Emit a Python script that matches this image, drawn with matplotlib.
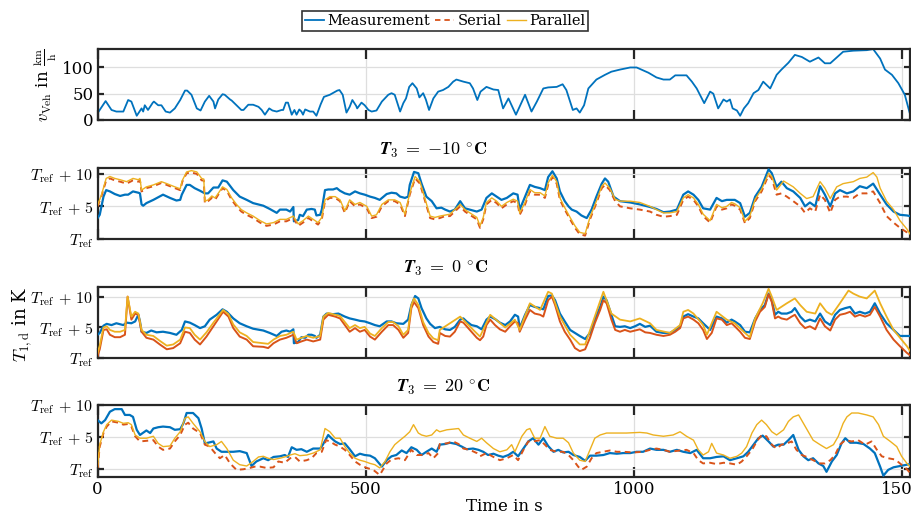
import matplotlib
matplotlib.use("Agg")
import matplotlib.pyplot as plt
import numpy as np

plt.rcParams['font.family'] = ['DejaVu Serif']
plt.rcParams['mathtext.fontset'] = 'cm'

# ---------------- data ----------------
# vehicle speed (km/h)
t_v = [0, 15, 26, 35, 48, 57, 63, 73, 82, 85, 88, 94, 103, 105, 113, 119, 127, 135, 144, 154,
       163, 167, 175, 185, 192, 200, 208, 216, 219, 225, 233, 237, 247, 250, 259, 268, 272, 281,
       290, 300, 306, 312, 320, 326, 334, 343, 346, 351, 355, 362, 367, 371, 376, 380, 383, 387,
       396, 402, 408, 416, 422, 433, 447, 451, 457, 464, 470, 475, 482, 484, 492, 498, 505, 511,
       520, 530, 542, 548, 554, 564, 570, 575, 581, 587, 595, 600, 607, 612, 618, 626, 635,
       644, 654, 663, 669, 682, 694, 700, 708, 714, 725, 738, 747, 756, 766, 780, 797, 809, 819,
       831, 840, 856, 867, 874, 886, 893, 899, 907, 915, 930, 946, 958, 974, 993, 1005, 1014,
       1027, 1042, 1055, 1067, 1077, 1098, 1108, 1117, 1123, 1131, 1142, 1148, 1157, 1167, 1173,
       1179, 1184, 1192, 1198, 1205, 1213, 1223, 1232, 1241, 1254, 1266, 1275, 1288, 1300, 1313,
       1328, 1344, 1356, 1366, 1378, 1390, 1409, 1434, 1446, 1459, 1468, 1481, 1493, 1505, 1515]
v_veh = [13, 36, 19, 16, 16, 38, 35, 8, 22, 16, 28, 19, 33, 35, 28, 28, 16, 14, 22, 38,
         56, 56, 48, 22, 18, 35, 46, 35, 22, 39, 49, 48, 39, 37, 28, 19, 19, 29,
         29, 25, 19, 10, 22, 18, 16, 19, 19, 33, 33, 10, 19, 10, 20, 16, 10, 20,
         16, 16, 8, 30, 44, 48, 56, 57, 48, 14, 25, 38, 27, 22, 33, 28, 19, 16,
         18, 35, 48, 51, 48, 16, 32, 41, 63, 70, 60, 43, 51, 39, 19, 41, 54,
         57, 63, 73, 77, 73, 70, 60, 38, 54, 63, 58, 57, 22, 41, 10, 48, 16, 35,
         60, 62, 63, 68, 57, 19, 22, 14, 28, 60, 77, 86, 92, 96, 100, 100, 96,
         90, 81, 77, 77, 85, 85, 73, 60, 48, 32, 54, 50, 22, 39, 35,
         39, 22, 18, 8, 22, 32, 51, 57, 73, 60, 86, 96, 109, 124, 120,
         111, 119, 108, 108, 119, 130, 132, 133, 135, 117, 96, 86, 70, 48, 10]

# T3 = -10 degC
t_m1 = [0, 4, 11, 16, 23, 32, 42, 51, 57, 66, 76, 79, 82, 85, 91, 104, 122, 135, 147, 154, 157,
        166, 172, 181, 191, 200, 206, 216, 225, 233, 241, 253, 265, 278, 290, 309, 321, 334, 340,
        352, 359, 365, 366, 374, 377, 383, 390, 399, 405, 408, 415, 418, 424, 430, 439, 446, 452,
        461, 470, 480, 489, 498, 508, 517, 526, 539, 548, 557, 564, 573, 579, 582, 590, 598, 604,
        613, 623, 632, 641, 648, 657, 666, 676, 685, 694, 707, 716, 725, 735, 744, 753, 763, 775,
        783, 787, 797, 806, 815, 825, 834, 840, 848, 856, 862, 871, 878, 884, 893, 902, 912, 921,
        930, 940, 946, 952, 962, 974, 993, 1011, 1030, 1042, 1055, 1067, 1080, 1092, 1101, 1111,
        1120, 1129, 1142, 1154, 1164, 1173, 1182, 1188, 1198, 1207, 1216, 1226, 1238, 1251, 1257,
        1266, 1275, 1285, 1297, 1310, 1319, 1328, 1338, 1347, 1356, 1366, 1375, 1384, 1397, 1409,
        1421, 1434, 1446, 1459, 1471, 1484, 1496, 1509, 1515]
T_m1 = [3.2, 3.7, 6.5, 7.5, 7.3, 6.9, 6.6, 6.8, 6.8, 7.3, 7.1, 7.0, 5.3, 5.1, 5.5, 6.0, 6.8, 6.3, 5.9, 6.0, 6.8,
        8.3, 8.3, 7.8, 7.4, 7.0, 7.0, 7.9, 7.9, 9.0, 8.8, 7.5, 6.5, 6.0, 5.5, 5.1, 4.6, 4.0, 4.5,
        4.5, 4.2, 4.9, 2.7, 2.9, 3.7, 3.5, 4.5, 4.6, 4.5, 3.6, 3.7, 4.5, 7.5, 7.6, 7.6, 7.8, 7.4,
        7.0, 6.8, 7.3, 7.0, 6.8, 6.5, 6.3, 6.0, 6.9, 7.1, 7.0, 6.5, 6.3, 6.5, 8.3, 10.3, 10.1, 8.5,
        6.5, 5.8, 4.7, 4.8, 4.5, 4.2, 4.5, 5.8, 4.7, 4.5, 4.2, 4.5, 6.3, 7.0, 6.5, 6.0, 6.3, 7.0,
        6.8, 4.5, 6.5, 8.3, 8.0, 7.8, 7.5, 9.5, 10.4, 9.3, 7.3, 5.8, 5.0, 4.5, 4.2, 3.6, 3.2, 4.5,
        6.5, 8.5, 9.3, 8.8, 6.5, 5.8, 5.6, 5.3, 4.9, 4.6, 4.1, 4.2, 4.5, 6.8, 7.3, 6.8,
        6.0, 4.7, 4.5, 6.3, 5.8, 6.0, 6.0, 6.0, 5.5, 3.4, 4.0, 6.5, 8.0, 10.7, 10.1,
        8.0, 8.8, 7.8, 7.3, 6.3, 5.0, 5.6, 5.0, 8.1, 6.8, 5.0, 7.0, 7.5, 7.0, 7.3,
        8.1, 7.8, 8.5, 6.8, 5.3, 4.2, 3.7, 3.6, 3.5]
t_s1 = [0, 7, 16, 23, 32, 42, 54, 66, 76, 79, 82, 91, 104, 119, 129, 141, 154, 158, 166, 175, 185,
        194, 198, 200, 206, 213, 219, 225, 233, 241, 250, 259, 268, 278, 290, 303, 315, 328, 340,
        352, 365, 374, 383, 393, 402, 411, 418, 424, 433, 443, 452, 461, 470, 480, 489, 502, 511,
        520, 530, 542, 554, 564, 573, 582, 592, 601, 610, 620, 629, 638, 648, 657, 666, 676, 685,
        694, 707, 713, 719, 725, 735, 744, 753, 763, 775, 783, 787, 797, 806, 815, 825, 834, 840,
        848, 856, 862, 871, 881, 890, 899, 909, 918, 930, 940, 946, 955, 965, 974, 993, 1011, 1030,
        1042, 1055, 1067, 1080, 1092, 1101, 1111, 1120, 1129, 1142, 1154, 1164, 1173, 1182, 1188,
        1198, 1207, 1216, 1226, 1238, 1251, 1257, 1266, 1275, 1285, 1297, 1310, 1319, 1328, 1338,
        1347, 1356, 1366, 1375, 1384, 1397, 1409, 1421, 1434, 1446, 1459, 1471, 1484, 1496, 1509, 1515]
T_s1 = [5.0, 6.5, 9.0, 9.3, 9.0, 8.8, 8.5, 9.0, 8.8, 9.0, 7.3, 7.8, 8.1, 8.6, 8.3, 7.9, 7.5, 8.8, 10.1, 10.2, 10.0,
        9.0, 9.0, 5.5, 5.8, 6.3, 6.0, 6.8, 7.8, 7.4, 6.0, 5.0, 4.2, 3.7, 3.2, 2.5, 2.0, 2.2, 2.7,
        2.7, 3.2, 2.0, 2.5, 3.2, 2.7, 2.2, 3.0, 5.8, 6.3, 6.3, 5.8, 4.0, 5.8, 5.0, 5.3, 4.7, 3.2,
        3.4, 5.0, 5.8, 5.8, 5.3, 3.5, 6.8, 9.3, 8.5, 6.0, 3.2, 3.0, 3.2, 3.5, 3.5, 4.2, 5.0, 4.2,
        3.7, 3.0, 1.7, 3.0, 5.3, 6.0, 5.5, 4.7, 5.3, 5.8, 5.5, 3.7, 5.3, 7.3, 6.8, 6.8, 6.3, 8.3,
        9.5, 8.5, 6.0, 4.5, 3.0, 1.7, 0.7, 0.5, 3.0, 5.5, 7.8, 8.3, 7.5, 5.8, 5.0, 4.7, 4.5, 4.2,
        3.7, 3.4, 3.5, 3.7, 6.0, 6.5, 6.0, 5.0, 3.5, 2.5, 5.0, 4.5, 4.7, 5.3, 5.1,
        4.5, 2.4, 3.2, 5.8, 7.3, 9.8, 9.3, 6.8, 7.0, 6.5, 5.8, 5.0, 4.0, 4.7, 4.2,
        6.8, 6.0, 4.0, 6.0, 6.5, 6.5, 6.3, 7.0, 7.0, 7.3, 5.5, 3.5, 2.5, 1.7, 1.0, 0.5]
t_p1 = [0, 7, 16, 23, 32, 42, 54, 66, 76, 79, 82, 91, 104, 119, 129, 141, 154, 158, 166, 175, 185,
        194, 198, 200, 206, 213, 219, 225, 233, 241, 250, 259, 268, 278, 290, 303, 315, 328, 340,
        352, 365, 374, 383, 393, 402, 411, 418, 424, 433, 443, 452, 461, 470, 480, 489, 502, 511,
        520, 530, 542, 554, 564, 573, 582, 592, 601, 610, 620, 629, 638, 657, 666, 676, 685, 694,
        707, 713, 719, 725, 735, 744, 753, 763, 775, 783, 787, 797, 806, 815, 825, 834, 840, 848,
        856, 862, 871, 881, 890, 899, 909, 918, 930, 940, 946, 955, 965, 974, 993, 1011, 1030, 1042,
        1055, 1067, 1080, 1092, 1101, 1111, 1120, 1129, 1142, 1154, 1164, 1173, 1182, 1188, 1198,
        1207, 1216, 1226, 1238, 1251, 1257, 1266, 1279, 1297, 1310, 1322, 1334, 1347, 1356, 1366,
        1378, 1390, 1409, 1421, 1434, 1446, 1453, 1459, 1471, 1484, 1496, 1509, 1515]
T_p1 = [5.2, 6.7, 9.3, 9.6, 9.3, 9.1, 8.8, 9.3, 9.1, 9.3, 7.5, 8.0, 8.3, 8.8, 8.5, 8.1, 7.7, 9.0, 10.3, 10.5, 10.3,
        9.3, 9.2, 5.8, 6.0, 6.6, 6.3, 7.0, 8.0, 7.6, 6.3, 5.3, 4.5, 4.0, 3.5, 2.8, 2.3, 2.5, 3.0,
        3.0, 3.5, 2.3, 2.8, 3.5, 3.0, 2.5, 3.3, 6.0, 6.5, 6.5, 6.0, 4.3, 6.0, 5.3, 5.6, 5.0, 3.5,
        3.7, 5.3, 6.0, 6.0, 5.6, 3.8, 7.0, 9.6, 8.8, 6.3, 3.5, 3.3, 3.5, 3.8, 4.5, 5.3, 4.5, 4.0,
        3.3, 2.0, 3.3, 5.6, 6.3, 5.8, 5.0, 5.6, 6.1, 5.8, 4.0, 5.6, 7.6, 7.1, 7.1, 6.6, 8.6, 9.8,
        8.8, 6.3, 4.8, 3.3, 2.0, 1.0, 0.8, 3.3, 5.8, 8.1, 8.6, 7.8, 6.1, 5.8, 5.8, 5.6, 5.0, 4.5,
        4.0, 4.0, 4.2, 6.3, 6.8, 6.3, 5.3, 3.8, 2.8, 5.3, 4.8, 5.0, 5.6, 5.4, 4.8,
        2.7, 3.5, 6.1, 7.6, 10.1, 9.6, 7.5, 8.9, 8.0, 7.0, 6.2, 6.5, 8.8, 7.8, 6.2,
        8.0, 8.5, 8.8, 9.3, 9.5, 10.2, 9.5, 7.8, 5.8, 4.5, 2.8, 1.5, 0.7]

# T3 = 0 degC
t_m2 = [0, 4, 11, 17, 26, 35, 48, 54, 63, 70, 76, 79, 82, 91, 100, 110, 122, 135, 147, 157, 163,
        172, 181, 191, 200, 209, 222, 233, 241, 253, 265, 278, 290, 309, 321, 334, 343, 352, 359,
        365, 366, 374, 380, 387, 393, 399, 405, 408, 415, 421, 427, 439, 449, 461, 470, 480, 489,
        498, 508, 517, 526, 539, 548, 557, 570, 579, 585, 592, 598, 604, 613, 620, 629, 638, 648,
        657, 666, 676, 682, 688, 697, 707, 716, 725, 732, 741, 750, 760, 769, 778, 784, 787, 797,
        806, 815, 825, 831, 840, 847, 853, 862, 871, 881, 890, 899, 909, 918, 927, 937, 943, 949,
        958, 965, 974, 983, 993, 1002, 1011, 1021, 1030, 1042, 1055, 1067, 1077, 1086, 1092, 1101,
        1111, 1120, 1129, 1142, 1154, 1164, 1173, 1182, 1188, 1198, 1207, 1216, 1226, 1235, 1244,
        1251, 1257, 1263, 1269, 1275, 1285, 1294, 1300, 1310, 1319, 1328, 1338, 1347, 1356, 1366,
        1375, 1384, 1394, 1403, 1412, 1421, 1431, 1440, 1449, 1459, 1471, 1484, 1496, 1509, 1515]
T_m2 = [3.8, 4.1, 5.3, 5.6, 5.4, 5.7, 5.4, 5.8, 5.7, 6.0, 7.1, 6.0, 4.3, 4.1, 4.5, 4.2, 4.3, 4.1, 3.8, 4.6, 6.0,
        5.8, 5.4, 4.9, 5.2, 6.3, 7.1, 8.0, 7.6, 6.5, 5.7, 5.2, 4.8, 4.5, 4.1, 3.6, 4.3, 4.5, 4.3,
        4.7, 2.4, 2.6, 3.4, 3.3, 3.8, 3.8, 3.6, 3.3, 3.8, 6.8, 7.3, 7.2, 7.3, 6.8, 6.5, 6.3, 6.1,
        6.0, 5.7, 5.4, 5.2, 6.0, 6.0, 5.7, 5.6, 6.3, 8.7, 10.2, 9.8, 8.2, 6.5, 5.6, 4.9, 5.1, 4.7,
        4.6, 5.1, 6.3, 6.5, 6.0, 5.4, 5.2, 4.7, 6.3, 6.8, 6.4, 5.8, 5.4, 6.0, 7.1, 6.8, 4.9, 7.1,
        8.7, 8.4, 8.2, 8.0, 10.2, 10.3, 9.5, 7.3, 6.0, 4.6, 4.1, 3.6, 3.1, 4.1, 6.3, 8.4, 10.1, 9.5,
        7.1, 5.2, 5.1, 5.2, 4.9, 5.2, 5.6, 5.1, 5.3, 4.3, 4.1, 4.1, 4.6, 5.2, 6.8, 7.2,
        6.8, 6.5, 5.7, 4.6, 6.8, 6.5, 5.8, 6.3, 6.0, 5.4, 4.3, 4.2, 6.5, 7.9, 8.7,
        10.6, 9.5, 7.1, 7.6, 7.3, 7.3, 7.6, 8.2, 6.8, 6.0, 6.3, 6.0, 7.3, 6.0, 5.4,
        7.1, 7.9, 8.2, 8.4, 7.3, 7.6, 7.3, 7.6, 9.0, 7.3, 5.7, 4.6, 3.6, 3.6, 3.6]
t_s2 = [0, 4, 11, 17, 23, 32, 42, 51, 56, 63, 70, 76, 82, 91, 104, 116, 129, 141, 154, 163, 172,
        181, 191, 203, 216, 228, 234, 244, 253, 265, 278, 290, 309, 318, 328, 340, 352, 365, 371,
        380, 390, 402, 415, 421, 430, 443, 452, 461, 470, 480, 489, 498, 508, 517, 530, 542, 551,
        561, 570, 579, 585, 590, 598, 607, 617, 626, 635, 638, 648, 657, 666, 676, 682, 688, 697,
        707, 713, 719, 725, 732, 741, 750, 760, 769, 778, 784, 787, 797, 806, 815, 825, 831, 840,
        847, 853, 862, 871, 881, 890, 899, 909, 918, 927, 937, 943, 949, 958, 965, 974, 983, 993,
        1002, 1011, 1021, 1030, 1042, 1055, 1067, 1077, 1086, 1092, 1101, 1111, 1120, 1129, 1136,
        1145, 1154, 1164, 1173, 1182, 1188, 1198, 1207, 1216, 1226, 1235, 1244, 1251, 1257, 1263,
        1269, 1275, 1285, 1294, 1300, 1310, 1319, 1328, 1338, 1347, 1356, 1366, 1375, 1384, 1394,
        1403, 1412, 1421, 1431, 1440, 1449, 1459, 1471, 1484, 1496, 1509, 1515]
T_s2 = [0.3, 1.4, 4.6, 4.7, 3.8, 3.4, 3.4, 3.8, 10.1, 6.3, 7.3, 7.1, 4.3, 3.3, 3.0, 2.2, 1.4, 1.6, 2.4, 4.3, 4.1,
        3.0, 2.2, 3.5, 5.2, 6.8, 7.6, 6.8, 4.9, 3.5, 3.0, 1.9, 1.8, 1.6, 2.4, 3.0, 3.3, 3.8, 2.4,
        2.7, 3.0, 2.7, 3.0, 6.3, 7.1, 6.8, 6.5, 5.4, 4.3, 4.9, 4.3, 4.6, 3.5, 3.0, 4.3, 5.4, 5.4,
        4.6, 3.3, 4.1, 8.2, 9.2, 8.2, 5.4, 3.5, 2.6, 2.3, 4.1, 3.6, 3.5, 4.3, 6.0, 5.8, 5.2, 4.3,
        3.3, 2.9, 3.5, 5.4, 6.3, 5.4, 4.7, 4.3, 5.2, 6.0, 5.7, 4.3, 6.3, 7.9, 7.3, 7.1, 6.8, 9.5,
        10.1, 8.7, 6.0, 4.3, 3.0, 1.6, 1.1, 1.4, 3.3, 5.7, 7.9, 9.5, 9.0, 6.3, 4.6, 4.3, 4.6, 4.3,
        4.5, 4.7, 4.2, 4.1, 3.8, 3.6, 3.8, 4.3, 4.9, 6.5, 6.8, 6.3, 5.7, 4.6, 3.1,
        4.1, 6.5, 6.3, 5.4, 5.7, 5.2, 4.3, 3.3, 3.1, 6.0, 7.6, 8.4, 10.5, 9.2, 6.5,
        6.8, 6.5, 6.3, 6.8, 7.1, 5.7, 4.9, 5.2, 4.7, 6.5, 5.2, 4.5, 6.3, 7.1, 7.3,
        7.6, 6.8, 7.1, 6.8, 7.1, 8.4, 6.8, 4.6, 3.0, 1.9, 0.8, 0.4]
t_p2 = [0, 4, 11, 17, 23, 32, 42, 51, 56, 63, 70, 76, 82, 91, 104, 116, 129, 141, 154, 163, 172,
        181, 191, 203, 216, 228, 234, 244, 253, 265, 278, 290, 309, 318, 328, 340, 352, 365, 371,
        380, 390, 402, 415, 421, 430, 443, 452, 461, 470, 480, 489, 498, 508, 517, 530, 542, 551,
        561, 570, 579, 585, 590, 598, 607, 617, 626, 635, 638, 676, 697, 713, 732, 760, 778, 787,
        806, 825, 840, 847, 862, 881, 899, 909, 927, 943, 958, 974, 993, 1011, 1030, 1042, 1067,
        1086, 1092, 1101, 1111, 1129, 1136, 1154, 1173, 1188, 1207, 1216, 1226, 1240, 1251, 1257,
        1266, 1285, 1300, 1310, 1322, 1338, 1347, 1359, 1369, 1384, 1400, 1409, 1421, 1434, 1449,
        1459, 1471, 1484, 1496, 1509, 1515]
T_p2 = [0.8, 2.0, 5.0, 5.2, 4.6, 4.3, 4.3, 4.6, 10.1, 6.8, 7.6, 7.3, 4.6, 3.8, 3.6, 2.8, 2.0, 2.2, 3.0, 5.0, 4.9,
        3.8, 3.0, 4.2, 5.8, 7.2, 7.9, 7.2, 5.5, 4.2, 3.6, 2.6, 2.4, 2.3, 3.0, 3.6, 3.8, 4.3, 3.0,
        3.3, 3.6, 3.3, 3.6, 6.8, 7.4, 7.1, 6.9, 5.9, 4.9, 5.4, 4.9, 5.1, 4.0, 3.6, 4.9, 5.9, 5.9,
        5.2, 3.8, 4.6, 8.7, 9.8, 8.7, 5.9, 4.1, 3.2, 2.9, 4.6, 6.8, 4.9, 3.5, 7.1, 5.0, 6.3, 4.6,
        9.0, 7.9, 10.9, 10.6, 6.8, 3.8, 2.2, 2.2, 6.8, 10.9, 7.3, 6.3, 6.0, 6.5, 5.7, 4.6, 4.1,
        5.4, 7.6, 7.9, 7.3, 5.4, 3.8, 7.6, 6.3, 5.7, 4.1, 3.4, 6.5, 9.0, 11.4, 10.1,
        7.9, 9.0, 9.8, 8.7, 7.6, 7.3, 9.0, 7.6, 7.1, 9.0, 11.1, 10.6, 10.1, 9.8, 11.1,
        9.0, 6.8, 4.6, 3.3, 1.9, 1.1]

# T3 = 20 degC
t_m3 = [0, 7, 14, 23, 32, 45, 51, 60, 66, 73, 79, 91, 98, 104, 113, 122, 135, 144, 154, 160, 166,
        178, 188, 194, 200, 206, 216, 222, 231, 241, 253, 265, 278, 287, 296, 309, 318, 328, 340,
        349, 355, 362, 371, 380, 390, 402, 415, 420, 430, 436, 443, 452, 461, 470, 480, 489, 498,
        508, 517, 530, 539, 548, 557, 567, 576, 585, 595, 604, 613, 623, 632, 638, 648, 657, 669,
        679, 688, 700, 710, 719, 728, 738, 747, 756, 766, 775, 784, 794, 803, 812, 822, 831, 840,
        850, 859, 868, 878, 887, 899, 909, 918, 930, 943, 955, 968, 980, 993, 1005, 1017, 1030,
        1042, 1055, 1067, 1080, 1092, 1105, 1117, 1129, 1142, 1154, 1167, 1179, 1192, 1204, 1213,
        1223, 1232, 1240, 1251, 1260, 1269, 1279, 1288, 1297, 1307, 1316, 1325, 1334, 1344, 1353,
        1359, 1369, 1378, 1387, 1394, 1403, 1415, 1428, 1440, 1449, 1459, 1465, 1474, 1484, 1496,
        1509, 1515]
T_m3 = [7.6, 7.1, 7.6, 8.9, 9.3, 9.3, 8.4, 8.4, 8.1, 6.1, 5.3, 6.0, 5.6, 6.3, 6.5, 6.6, 6.5, 6.1, 6.2, 7.1, 8.7,
        8.7, 7.9, 6.3, 4.0, 4.1, 4.3, 3.2, 2.7, 2.7, 2.7, 2.8, 2.5, 0.5, 1.2, 1.7, 1.4, 1.9, 2.0,
        2.2, 1.9, 3.4, 3.0, 3.1, 2.7, 3.2, 3.2, 3.8, 5.3, 4.8, 4.3, 3.9, 4.0, 3.1, 2.0, 2.4, 2.2,
        2.1, 1.7, 0.4, 1.4, 2.0, 2.2, 2.9, 2.5, 3.4, 3.0, 2.2, 2.7, 3.2, 2.7, 3.8, 3.9, 4.1, 3.9,
        3.5, 3.1, 3.2, 3.0, 2.7, 2.2, 2.4, 2.1, 1.9, 2.2, 2.7, 2.0, 3.2, 4.3, 4.8, 3.8, 4.8, 3.6,
        2.7, 3.0, 2.6, 2.7, 2.2, 1.9, 1.3, 2.1, 2.1, 2.2, 2.5, 2.4, 2.5, 2.5, 2.7, 2.7, 3.2,
        3.0, 3.0, 2.7, 3.0, 2.7, 2.5, 3.0, 1.7, 1.7, 1.9, 2.0, 1.4, 1.7, 2.0, 2.7,
        3.8, 4.8, 5.2, 4.3, 3.5, 3.8, 3.8, 4.5, 5.3, 3.0, 2.0, 1.4, 1.7, 0.9, 0.5,
        -0.4, 1.2, 2.2, 4.0, 4.8, 4.1, 4.1, 3.9, 3.2, 2.5, 0.4, -1.0, -0.1, 0.3, 0.5,
        0.7, 0.8]
t_s3 = [0, 4, 11, 17, 26, 39, 48, 57, 63, 70, 79, 91, 104, 113, 122, 135, 144, 154, 163, 169, 178,
        191, 200, 209, 219, 228, 237, 247, 259, 272, 284, 293, 303, 315, 328, 337, 349, 359, 368,
        377, 390, 399, 408, 418, 426, 433, 443, 452, 461, 470, 480, 489, 502, 514, 526, 539, 548,
        561, 573, 585, 595, 607, 617, 626, 635, 638, 651, 663, 673, 682, 694, 707, 713, 725, 738,
        750, 763, 775, 784, 794, 803, 812, 825, 834, 843, 856, 868, 878, 887, 896, 902, 912, 921,
        930, 943, 955, 968, 980, 999, 1017, 1030, 1042, 1055, 1067, 1086, 1098, 1111, 1120, 1129,
        1142, 1154, 1167, 1179, 1192, 1201, 1210, 1220, 1229, 1238, 1247, 1257, 1266, 1275, 1285,
        1294, 1303, 1313, 1322, 1334, 1347, 1356, 1366, 1375, 1384, 1394, 1406, 1418, 1431, 1443,
        1453, 1462, 1474, 1487, 1499, 1509, 1515]
T_s3 = [0.2, 3.5, 5.6, 6.6, 7.4, 7.2, 6.9, 7.0, 6.6, 5.1, 4.3, 4.4, 4.5, 3.5, 3.0, 3.2, 4.3, 5.3, 6.9, 7.2, 6.3,
        5.6, 3.8, 3.5, 2.5, 1.7, 2.2, 0.9, -0.1, 0.0, 0.2, 0.4, 0.4, 0.2, 0.3, 1.2, 1.0, 1.7, 1.9,
        1.2, 1.4, 1.7, 2.5, 2.7, 4.5, 4.3, 3.8, 3.5, 3.0, 2.2, 1.2, 0.7, 0.2, -0.1, -0.9, 0.9, 1.5,
        1.7, 1.4, 3.0, 2.2, 2.2, 2.5, 1.7, 2.5, 3.9, 4.0, 4.3, 3.9, 3.2, 3.0, 2.5, 2.0, 2.5, 1.9,
        1.4, 1.7, 2.2, 1.4, 3.0, 4.3, 4.3, 4.5, 3.8, 3.0, 2.7, 2.7, 2.2, 1.4, 0.4, -0.1, 0.4, 1.7,
        2.5, 2.7, 2.9, 2.7, 2.7, 2.6, 2.7, 3.0, 3.2, 3.0, 2.7, 2.9, 3.0, 2.5, 1.4, 0.9,
        1.0, 0.8, 1.0, 0.9, 0.7, 1.2, 2.0, 3.0, 4.3, 5.3, 5.1, 3.8, 3.2, 3.8, 4.0,
        4.3, 3.0, 2.2, 1.9, 1.4, 0.9, 0.9, 1.4, 2.2, 3.8, 4.5, 4.3, 4.5, 3.8, 4.3,
        3.0, 2.0, 1.7, 1.5, 0.7, 0.0, -0.6]
t_p3 = [0, 4, 11, 17, 26, 39, 48, 57, 63, 70, 79, 91, 104, 113, 122, 135, 144, 154, 163, 169, 178,
        191, 200, 209, 222, 231, 241, 253, 265, 278, 290, 300, 309, 318, 328, 340, 349, 359, 368,
        377, 390, 402, 415, 424, 433, 443, 452, 461, 470, 480, 489, 498, 508, 517, 526, 536, 545,
        554, 564, 573, 582, 589, 598, 604, 613, 623, 632, 638, 651, 663, 673, 682, 694, 707, 716,
        725, 738, 750, 763, 772, 778, 791, 800, 806, 815, 825, 834, 843, 856, 868, 878, 887, 899,
        909, 918, 927, 937, 949, 968, 986, 1011, 1024, 1036, 1055, 1073, 1086, 1098, 1111, 1120,
        1129, 1139, 1145, 1154, 1167, 1179, 1192, 1201, 1210, 1220, 1229, 1238, 1247, 1257, 1266,
        1279, 1288, 1297, 1307, 1316, 1325, 1334, 1347, 1359, 1372, 1381, 1390, 1397, 1406, 1418,
        1434, 1446, 1456, 1465, 1478, 1490, 1499, 1509, 1515]
T_p3 = [0.4, 3.8, 5.8, 6.9, 7.6, 7.4, 7.1, 7.2, 6.9, 5.3, 4.8, 4.8, 5.1, 4.0, 3.5, 3.6, 4.8, 5.8, 7.9, 8.1, 7.1,
        5.8, 4.3, 3.5, 3.8, 4.3, 3.2, 1.4, 0.7, 0.5, 1.2, 1.9, 2.0, 1.7, 1.5, 1.7, 1.9, 2.2, 2.4,
        2.1, 2.2, 2.5, 3.0, 6.3, 5.8, 4.8, 4.8, 3.5, 2.5, 1.7, 1.4, 1.2, 0.9, 0.7, 0.2, 1.2, 2.7,
        3.8, 4.5, 5.1, 5.8, 6.9, 5.6, 5.3, 5.1, 5.3, 6.1, 5.8, 6.1, 6.2, 6.3, 5.3, 4.8, 4.3, 4.8,
        4.1, 3.2, 2.7, 3.0, 3.8, 2.7, 5.1, 6.1, 6.3, 4.8, 4.8, 6.6, 5.1, 4.8, 4.8, 4.1, 2.5, 1.4,
        1.2, 3.0, 4.8, 5.3, 5.6, 5.6, 5.6, 5.7, 5.6, 5.3, 5.1, 5.3, 5.8, 5.1, 4.5, 3.0,
        2.2, 2.7, 4.0, 2.5, 2.2, 1.7, 2.0, 2.5, 3.5, 5.6, 6.9, 7.6, 6.9, 5.8, 5.3,
        6.1, 7.4, 8.1, 8.4, 7.1, 5.8, 4.5, 3.8, 3.2, 3.8, 5.1, 7.1, 8.1, 8.7, 8.7,
        8.4, 8.1, 6.9, 5.1, 4.3, 3.5, 2.0, 0.9, 0.4]

panel_titles = [r'$\mathbfit{T}_{\mathbf{3}}\;\mathbf{=}\;\mathbf{-10\ ^{\circ}C}$',
                r'$\mathbfit{T}_{\mathbf{3}}\;\mathbf{=}\;\mathbf{0\ ^{\circ}C}$',
                r'$\mathbfit{T}_{\mathbf{3}}\;\mathbf{=}\;\mathbf{20\ ^{\circ}C}$']
panels = [
    (panel_titles[0], t_m1, T_m1, t_s1, T_s1, t_p1, T_p1),
    (panel_titles[1], t_m2, T_m2, t_s2, T_s2, t_p2, T_p2),
    (panel_titles[2], t_m3, T_m3, t_s3, T_s3, t_p3, T_p3),
]
series_names = ['Measurement', 'Serial', 'Parallel']
v_ticks = [0, 50, 100]
T_ticks = [0, 5, 10]
T_ticklabels = [r'$T_\mathrm{ref}$', r'$T_\mathrm{ref}\,+\,5$', r'$T_\mathrm{ref}\,+\,10$']
x_ticks = [0, 500, 1000, 1500]

# ---------------- style ----------------
c_meas = '#0072BD'
c_ser = '#D95319'
c_par = '#EDB120'
spine_c = '#262626'
grid_c = '#DEDEDE'

fig = plt.figure(figsize=(9.12, 5.17), dpi=100)
L, W = 0.107, 0.891
rects = [(L, 0.768, W, 0.137), (L, 0.538, W, 0.137), (L, 0.308, W, 0.137), (L, 0.0774, W, 0.140)]
ylims = [(0, 135), (0, 10.9), (0, 11.7), (-1.2, 10.0)]
axes = [fig.add_axes(r) for r in rects]


def style(ax, last=False):
    ax.set_xlim(0, 1515)
    ax.set_xticks(x_ticks)
    ax.grid(True, color=grid_c, linewidth=0.9)
    ax.set_axisbelow(True)
    for s in ax.spines.values():
        s.set_color(spine_c)
        s.set_linewidth(1.6)
    ax.tick_params(axis='x', direction='in', length=7, width=1.6, top=True, color=spine_c,
                   labelsize=12, pad=3, labelbottom=last)
    ax.tick_params(axis='y', direction='in', length=4, width=1.6, right=True, color=spine_c,
                   labelsize=11.5, pad=3)


ax = axes[0]
ax.plot(t_v, v_veh, color=c_meas, lw=1.3)
ax.set_ylim(*ylims[0])
ax.set_yticks(v_ticks)
style(ax)
ax.tick_params(axis='y', labelsize=12)
ax.set_ylabel(r'$v_\mathrm{Veh}$ in $\frac{\mathrm{km}}{\mathrm{h}}$', fontsize=12, labelpad=2)

title_x = [0.475, 0.488, 0.486]
title_y = [0.709, 0.481, 0.252]
for i, (title, tm, Tm, ts, Ts, tp, Tp) in enumerate(panels):
    ax = axes[i + 1]
    ser_ls = '-' if i == 1 else (0, (3, 2.2))
    ax.plot(tm, Tm, color=c_meas, lw=1.6, zorder=3)
    ax.plot(ts, Ts, color=c_ser, lw=1.4, ls=ser_ls, zorder=4)
    ax.plot(tp, Tp, color=c_par, lw=1.0 if i != 1 else 1.3, zorder=5)
    ax.set_ylim(*ylims[i + 1])
    ax.set_yticks(T_ticks)
    ax.set_yticklabels(T_ticklabels)
    style(ax, last=(i == 2))
    fig.text(title_x[i], title_y[i], title, ha='center', va='center', fontsize=13)

fig.text(0.024, 0.372, r'$T_\mathrm{1,d}$ in K', fontsize=13, rotation=90,
         ha='center', va='center')
axes[3].set_xlabel('Time in s', fontsize=12, labelpad=0)

handles = [
    plt.Line2D([], [], color=c_meas, lw=1.3),
    plt.Line2D([], [], color=c_ser, lw=1.3, ls=(0, (3, 2.2))),
    plt.Line2D([], [], color=c_par, lw=1.0),
]
leg = fig.legend(handles, series_names, loc='center', bbox_to_anchor=(0.488, 0.959), ncol=3,
                 frameon=True, fancybox=False, edgecolor='black', fontsize=10.5,
                 handlelength=1.3, handletextpad=0.2, columnspacing=0.4, borderpad=0.2,
                 borderaxespad=0)
leg.get_frame().set_linewidth(1.2)

fig.savefig('out.png', dpi=100)
